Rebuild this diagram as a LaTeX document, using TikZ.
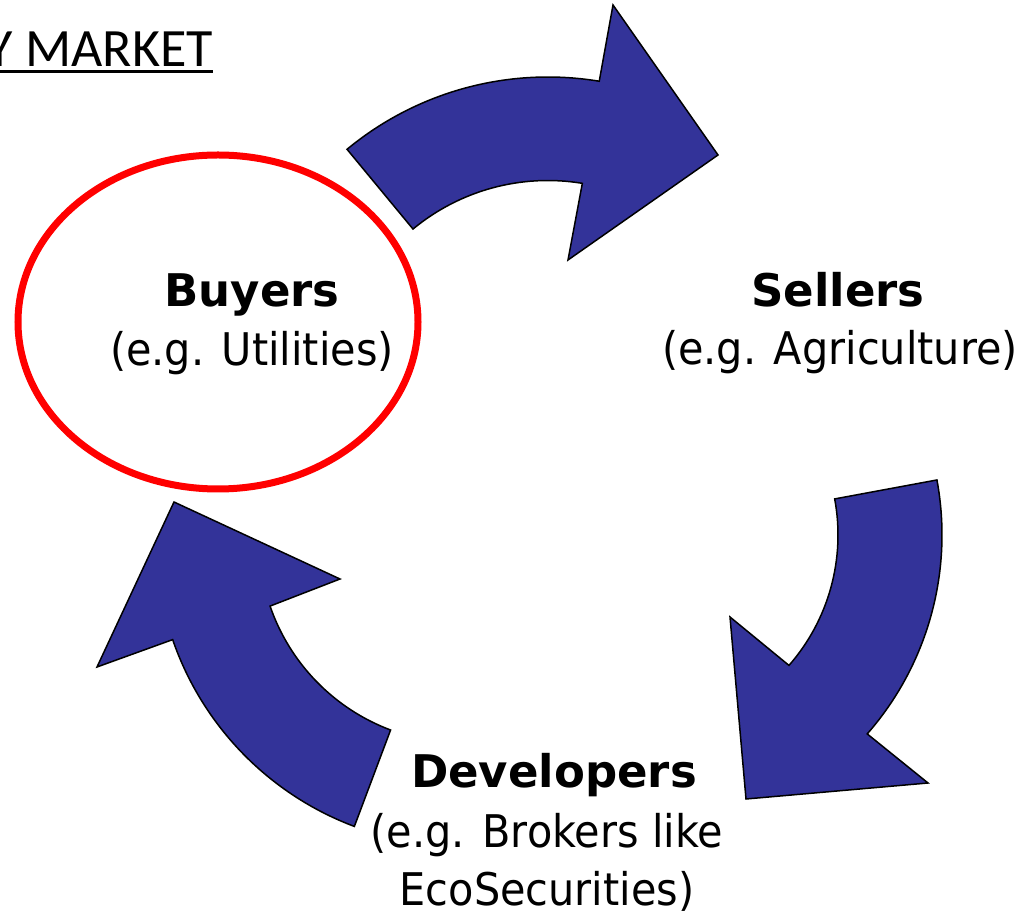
\documentclass[tikz,border=0pt]{standalone}
\usepackage{fontspec}
\setmainfont{DejaVu Sans}
\newfontfamily\regfont[FakeStretch=0.92]{DejaVu Sans}
\newfontfamily\titlefont{Carlito}
\definecolor{arrowblue}{RGB}{51,51,153}
\definecolor{ringred}{RGB}{255,0,0}
\begin{document}
\begin{tikzpicture}[x=1pt,y=1pt,
  bigarrow/.style={fill=arrowblue, draw=black, line width=1.5pt, line join=miter},
  headtext/.style={font=\fontsize{45}{54}\selectfont\bfseries, anchor=base, inner sep=0pt},
  subtext/.style={font=\regfont\fontsize{45}{54}\selectfont, anchor=base, inner sep=0pt}]
\useasboundingbox (0,0) rectangle (1025,913);

% title
\node[anchor=base east, inner sep=0pt, font=\titlefont\fontsize{54}{60}\selectfont] (title) at (213,846) {Y MARKET};
\draw[line width=3pt] ([yshift=-5pt]title.base west) -- ([yshift=-5pt]title.base east);

% buyers ring
\draw[ringred, line width=7pt] (218,591) ellipse[x radius=200, y radius=167];

% top arrow (Buyers -> Sellers)
\begin{scope}[shift={(547.8,521)}]
\draw[bigarrow] (129.6:315) arc[start angle=129.6, end angle=80.6, radius=315]
  -- (65.2,387) -- (170.2,237) -- (20.2,132)
  -- (80.6:211.5) arc[start angle=80.6, end angle=129.6, radius=211.5] -- cycle;
\end{scope}

% right arrow (Sellers -> Developers)
\begin{scope}[shift={(640,378)}]
\draw[bigarrow] (10.5:302) arc[start angle=10.5, end angle=-41.2, radius=302]
  -- (288,-248) -- (106,-264) -- (90,-82)
  -- (-41.2:198) arc[start angle=-41.2, end angle=10.5, radius=198] -- cycle;
\end{scope}

% left arrow (Developers -> Buyers)
\begin{scope}[shift={(462,373)}]
\draw[bigarrow] (249.4:306) arc[start angle=249.4, end angle=199, radius=306]
  -- (-365,-127) -- (-288,38) -- (-122,-39)
  -- (199:203) arc[start angle=199, end angle=249.4, radius=203] -- cycle;
\end{scope}

% labels
\node[headtext] (buyers) at (252,606) {Buyers};
\node[subtext] (buyersnote) at (252,547) {(e.g. Utilities)};
\node[headtext] (sellers) at (838,606) {Sellers};
\node[subtext] (sellersnote) at (840,548) {(e.g. Agriculture)};
\node[headtext] (developers) at (554,125) {Developers};
\node[subtext] (devnote1) at (547,66) {(e.g. Brokers like};
\node[subtext] (devnote2) at (547,8) {EcoSecurities)};
\end{tikzpicture}
\end{document}
